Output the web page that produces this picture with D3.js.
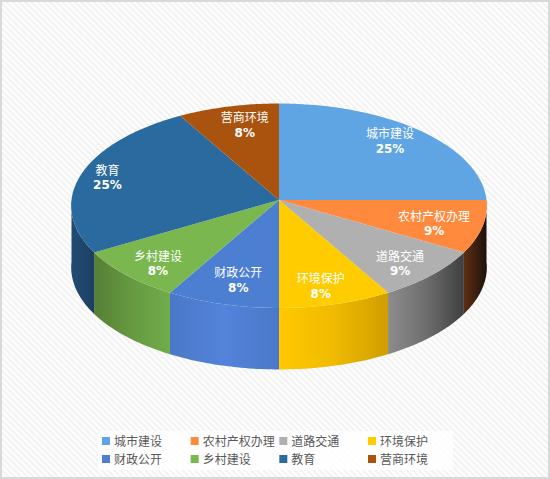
<!DOCTYPE html>
<html>
<head>
<meta charset="utf-8">
<script src="https://cdn.jsdelivr.net/npm/d3@7"></script>
<style>
  html, body { margin: 0; padding: 0; background: #fff; }
  svg { display: block; }
  text { font-family: "DejaVu Sans", "Noto Sans CJK SC", sans-serif; }
</style>
</head>
<body>
<svg id="chart" width="550" height="479"></svg>
<script>
const categories = ['城市建设', '农村产权办理', '道路交通', '环境保护', '财政公开', '乡村建设', '教育', '营商环境'];
const shares = [3, 1, 1, 1, 1, 1, 3, 1];
const percentLabels = ['25%', '9%', '9%', '8%', '8%', '8%', '25%', '8%'];
const topColors = ['#5fa5e3', '#ff8a3d', '#b0b0b0', '#ffcc00', '#4c7ed2', '#7ab84f', '#2b6a9e', '#a9530f'];
// wall shading, left to right
const wallColors = [
  null,
  ['#5e2f12', '#3d2010', '#1e1008'],
  ['#8c8c8c', '#6e6e6e', '#3f3f3f'],
  ['#ffc800', '#f0bb00', '#cf9e00'],
  ['#4a78c8', '#5383da', '#4a78c8'],
  ['#557f35', '#669a42', '#70ac4a'],
  ['#234a72', '#1f466c', '#1c3f62'],
  null
];

const width = 550;
const height = 479;

const svg = d3.select('#chart');
const defs = svg.append('defs');

// striped chart area
const stripes = defs.append('pattern')
  .attr('id', 'stripes')
  .attr('width', 4.4)
  .attr('height', 4.4)
  .attr('patternUnits', 'userSpaceOnUse')
  .attr('patternTransform', 'rotate(45)');
stripes.append('rect').attr('width', 4.4).attr('height', 4.4).attr('fill', '#fff');
stripes.append('rect').attr('width', 4.4).attr('height', 2.2).attr('fill', '#f2f2f2');

svg.append('rect')
  .attr('x', 1).attr('y', 1)
  .attr('width', width - 2).attr('height', height - 2)
  .attr('fill', 'url(#stripes)')
  .attr('stroke', '#d9d9d9')
  .attr('stroke-width', 2);

// tilted disc: near edge is drawn a little larger than the far edge
const cx = 279;
const cy = 200;
const rx = 207.5;
const ry = 101.9;
const tilt = 0.056;
const depth = 61.5;

function project(angle, r, drop) {
  const u = Math.sin(angle) * r;
  const v = -Math.cos(angle) * r;
  const w = 1 - tilt * v;
  return [cx + rx * u / w, cy + (drop || 0) + ry * v / w];
}

function rimPoints(a0, a1, drop) {
  const n = Math.ceil(Math.abs(a1 - a0) / 0.02);
  return d3.range(n + 1).map(i => project(a0 + (a1 - a0) * i / n, 1, drop));
}

const line = d3.line();
const arcs = d3.pie().sort(null).value(d => d)(shares);
const halfTurn = Math.PI / 2;

// side walls, only the part of the rim facing the viewer
const walls = arcs.map((d, i) => ({
  i,
  a0: Math.max(d.startAngle, halfTurn),
  a1: Math.min(d.endAngle, 3 * halfTurn)
})).filter(d => d.a1 > d.a0 && wallColors[d.i]);

walls.forEach(d => {
  const grad = defs.append('linearGradient').attr('id', `wall${d.i}`);
  wallColors[d.i].forEach((c, k) => {
    grad.append('stop').attr('offset', k / 2).attr('stop-color', c);
  });
});

svg.append('g').selectAll('path')
  .data(walls)
  .join('path')
    .attr('d', d => line(rimPoints(d.a0, d.a1, 0).concat(rimPoints(d.a1, d.a0, depth))) + 'Z')
    .attr('fill', d => `url(#wall${d.i})`);

// top face
svg.append('g').selectAll('path')
  .data(arcs)
  .join('path')
    .attr('d', d => line([[cx, cy]].concat(rimPoints(d.startAngle, d.endAngle, 0))) + 'Z')
    .attr('fill', (d, i) => topColors[i]);

// data labels
const labelRadius = 0.78;
const labelNudge = [[0, -4], [-3, 3], [3, 6], [-2, 6], [3, 0], [-3, 6], [-17, -2], [6, -1]];
const labels = svg.append('g').selectAll('g')
  .data(arcs)
  .join('g')
    .attr('transform', (d, i) => {
      const p = project((d.startAngle + d.endAngle) / 2, labelRadius);
      return `translate(${p[0] + labelNudge[i][0]},${p[1] + labelNudge[i][1]})`;
    })
    .attr('text-anchor', 'middle')
    .attr('fill', '#fff')
    .attr('font-size', 12);
labels.append('text').attr('y', -3).text((d, i) => categories[i]);
labels.append('text').attr('y', 11.5).attr('font-weight', 'bold').text((d, i) => percentLabels[i]);

// legend
const legendX = d3.scalePoint().domain(d3.range(4)).range([102, 368]);
const legendY = d3.scalePoint().domain(d3.range(2)).range([441, 459]);

svg.append('rect')
  .attr('x', 98).attr('y', 431)
  .attr('width', 355).attr('height', 39)
  .attr('fill', '#fff')
  .attr('fill-opacity', 0.8);

const legend = svg.append('g').selectAll('g')
  .data(categories)
  .join('g')
    .attr('transform', (d, i) => `translate(${legendX(i % 4)},${legendY(Math.floor(i / 4))})`);
legend.append('rect')
  .attr('x', 0).attr('y', -4)
  .attr('width', 8).attr('height', 8)
  .attr('fill', (d, i) => topColors[i]);
legend.append('text')
  .attr('x', 12).attr('y', 4.5)
  .attr('fill', '#595959')
  .attr('font-size', 12)
  .text(d => d);
</script>
</body>
</html>
